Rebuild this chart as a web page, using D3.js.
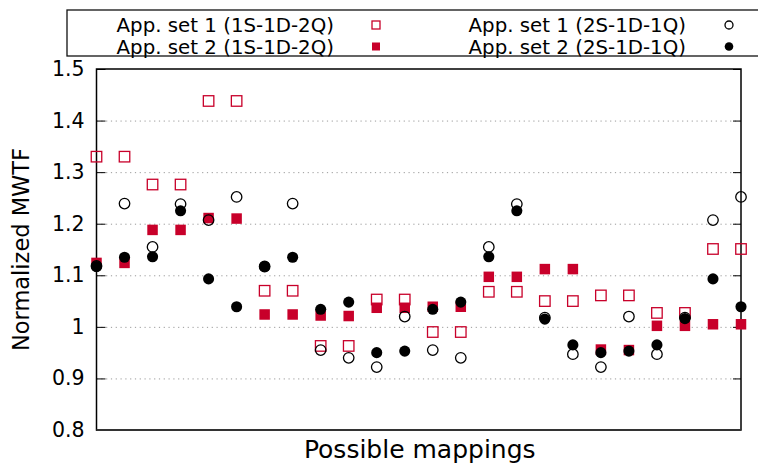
<!DOCTYPE html>
<html>
<head>
<meta charset="utf-8">
<script src="https://cdn.jsdelivr.net/npm/d3@7/dist/d3.min.js"></script>
<style>
  html, body { margin: 0; padding: 0; background: #fff; }
  svg { display: block; font-family: "DejaVu Sans", sans-serif; }
</style>
</head>
<body>
<svg id="chart" width="758" height="463"></svg>
<script>
// Mapping index (one column per possible mapping)
const mappings = d3.range(1, 25);

// Normalized MWTF per mapping
const set1_1S1D2Q = [1.33, 1.33, 1.276, 1.276, 1.438, 1.438, 1.07, 1.07, 0.963, 0.963, 1.053, 1.053,
                     0.99, 0.99, 1.068, 1.068, 1.05, 1.05, 1.061, 1.061, 1.027, 1.027, 1.151, 1.151];
const set2_1S1D2Q = [1.124, 1.124, 1.188, 1.188, 1.211, 1.21, 1.024, 1.024, 1.022, 1.021, 1.037, 1.037,
                     1.039, 1.039, 1.097, 1.097, 1.112, 1.112, 0.956, 0.955, 1.002, 1.002, 1.005, 1.005];
const set1_2S1D1Q = [1.118, 1.239, 1.155, 1.238, 1.207, 1.252, 1.117, 1.239, 0.955, 0.94, 0.922, 1.02,
                     0.955, 0.94, 1.155, 1.238, 1.018, 0.947, 0.922, 1.02, 0.947, 1.018, 1.207, 1.252];
const set2_2S1D1Q = [1.117, 1.135, 1.136, 1.225, 1.093, 1.039, 1.117, 1.135, 1.034, 1.048, 0.95, 0.953,
                     1.034, 1.048, 1.136, 1.225, 1.015, 0.965, 0.95, 0.953, 0.965, 1.016, 1.093, 1.039];

const yTicks = [0.8, 0.9, 1.0, 1.1, 1.2, 1.3, 1.4, 1.5];
const yTickLabels = ["0.8", "0.9", "1", "1.1", "1.2", "1.3", "1.4", "1.5"];

const seriesNames = ["App. set 1 (1S-1D-2Q)", "App. set 2 (1S-1D-2Q)",
                     "App. set 1 (2S-1D-1Q)", "App. set 2 (2S-1D-1Q)"];

const RED = "#c8002a";

const svg = d3.select("#chart");
const plot = { left: 96.5, right: 741, top: 69, bottom: 430 };

const x = d3.scaleLinear().domain([1, 24]).range([plot.left, plot.right]);
const y = d3.scaleLinear().domain([0.8, 1.5]).range([plot.bottom, plot.top]);

// dotted horizontal grid
svg.append("g")
  .attr("transform", `translate(${plot.left},0)`)
  .call(d3.axisLeft(y).tickValues(yTicks.slice(1, -1)).tickSize(-(plot.right - plot.left)).tickFormat(""))
  .call(g => g.select(".domain").remove())
  .call(g => g.selectAll("line").attr("stroke", "#9a9a9a").attr("stroke-width", 1).attr("stroke-dasharray", "1.2,3.6"));

// left axis with inward ticks
svg.append("g")
  .attr("transform", `translate(${plot.left},0)`)
  .call(d3.axisLeft(y).tickValues(yTicks).tickSizeInner(-9).tickSizeOuter(0).tickPadding(12)
        .tickFormat((d, i) => yTickLabels[i]))
  .call(g => g.select(".domain").remove())
  .call(g => g.selectAll("line").attr("stroke", "#000").attr("stroke-width", 1))
  .call(g => g.selectAll("text").attr("font-size", 20.5).attr("fill", "#000")
        .attr("font-family", "DejaVu Sans, sans-serif"));

// right axis mirror ticks
svg.append("g")
  .attr("transform", `translate(${plot.right},0)`)
  .call(d3.axisRight(y).tickValues(yTicks).tickSizeInner(-8).tickSizeOuter(0).tickFormat(""))
  .call(g => g.select(".domain").remove())
  .call(g => g.selectAll("line").attr("stroke", "#000").attr("stroke-width", 1));

// frame
svg.append("rect")
  .attr("x", plot.left).attr("y", plot.top)
  .attr("width", plot.right - plot.left).attr("height", plot.bottom - plot.top)
  .attr("fill", "none").attr("stroke", "#000").attr("stroke-width", 1.5);
svg.append("line")
  .attr("x1", plot.left).attr("x2", plot.right).attr("y1", plot.bottom).attr("y2", plot.bottom)
  .attr("stroke", "#333").attr("stroke-width", 2.2);

// axis titles
svg.append("text")
  .attr("x", (plot.left + plot.right) / 2 + 1).attr("y", 458)
  .attr("text-anchor", "middle").attr("font-size", 25).attr("fill", "#000")
  .text("Possible mappings");
svg.append("text")
  .attr("transform", `translate(29,${(plot.top + plot.bottom) / 2}) rotate(-90)`)
  .attr("text-anchor", "middle").attr("font-size", 22.5).attr("fill", "#000")
  .text("Normalized MWTF");

// marker drawers
const S = 10.5;
function openSquare(g, cx, cy, s) {
  g.append("rect").attr("x", cx - s / 2).attr("y", cy - s / 2).attr("width", s).attr("height", s)
    .attr("fill", "none").attr("stroke", RED).attr("stroke-width", 1.3);
}
function fullSquare(g, cx, cy, s) {
  g.append("rect").attr("x", cx - s / 2).attr("y", cy - s / 2).attr("width", s).attr("height", s)
    .attr("fill", RED);
}
function openCircle(g, cx, cy, s) {
  g.append("circle").attr("cx", cx).attr("cy", cy).attr("r", s / 2)
    .attr("fill", "none").attr("stroke", "#000").attr("stroke-width", 1.3);
}
function fullCircle(g, cx, cy, s) {
  g.append("circle").attr("cx", cx).attr("cy", cy).attr("r", s / 2 + 0.3).attr("fill", "#000");
}

const marks = svg.append("g");
const layers = [
  [set1_1S1D2Q, openSquare],
  [set2_1S1D2Q, fullSquare],
  [set1_2S1D1Q, openCircle],
  [set2_2S1D1Q, fullCircle]
];
layers.forEach(([vals, draw]) => {
  const g = marks.append("g");
  vals.forEach((v, i) => draw(g, x(mappings[i]), y(v), S));
});

// legend
const legend = svg.append("g");
legend.append("rect")
  .attr("x", 67).attr("y", 10).attr("width", 760).attr("height", 46)
  .attr("fill", "#fff").attr("stroke", "#111").attr("stroke-width", 1.3);
const legendItems = [
  { name: seriesNames[0], draw: openSquare, tx: 334, mx: 376, ty: 32, my: 25 },
  { name: seriesNames[2], draw: openCircle, tx: 686, mx: 729, ty: 32, my: 25 },
  { name: seriesNames[1], draw: fullSquare, tx: 334, mx: 376, ty: 54, my: 46.5 },
  { name: seriesNames[3], draw: fullCircle, tx: 686, mx: 729, ty: 54, my: 46.5 }
];
legendItems.forEach(it => {
  legend.append("text").attr("x", it.tx).attr("y", it.ty)
    .attr("text-anchor", "end").attr("font-size", 19.8).attr("fill", "#000").text(it.name);
  it.draw(legend, it.mx, it.my, 8);
});
</script>
</body>
</html>
